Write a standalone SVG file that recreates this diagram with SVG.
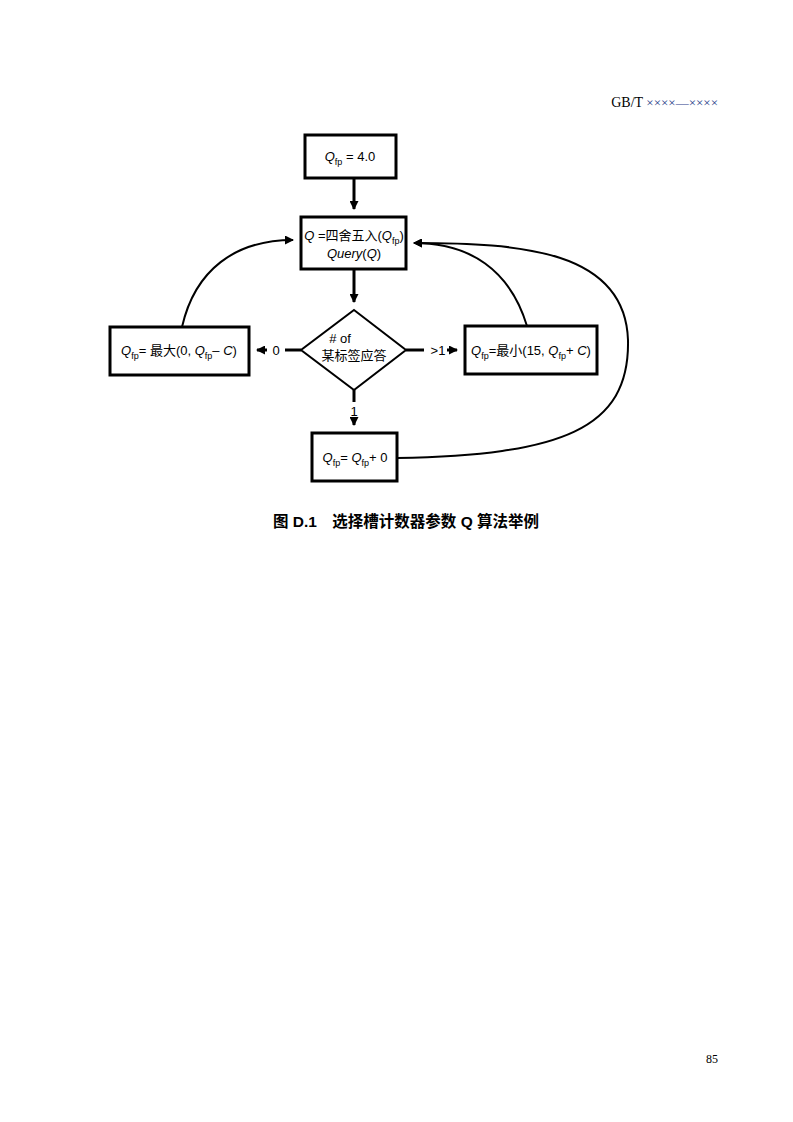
<svg xmlns="http://www.w3.org/2000/svg" width="793" height="1122" viewBox="0 0 793 1122">
<defs>
<marker id="ah" markerWidth="9" markerHeight="9" refX="8" refY="4.5" orient="auto" markerUnits="userSpaceOnUse" viewBox="0 0 9 9"><path d="M0,0 L9,4.5 L0,9 Z" fill="#000"/></marker>
<style>
.b{fill:#fff;stroke:#000;stroke-width:3}
.t{font-family:"Liberation Sans","Noto Sans CJK SC",sans-serif;font-size:13px;fill:#000}
.c{fill:none;stroke:#000;stroke-width:2}
.a{fill:none;stroke:#000;stroke-width:3}
</style>
</defs>
<rect width="793" height="1122" fill="#fff"/>
<text x="718" y="107" text-anchor="end" font-family="Liberation Serif,serif" font-size="14">GB/T <tspan fill="#1f3c88" font-size="13">××××—××××</tspan></text>
<g id="connectors">
<line class="a" x1="354" y1="178" x2="354" y2="209" marker-end="url(#ah)"/>
<line class="a" x1="354" y1="269" x2="354" y2="302" marker-end="url(#ah)"/>
<line class="a" x1="354" y1="390" x2="354" y2="402"/>
<line class="a" x1="354" y1="420" x2="354" y2="425" marker-end="url(#ah)"/>
<line class="a" x1="301" y1="350" x2="285" y2="350"/>
<line class="a" x1="267" y1="350" x2="257" y2="350" marker-end="url(#ah)"/>
<line class="a" x1="406" y1="350" x2="424" y2="350"/>
<line class="a" x1="447" y1="350" x2="457" y2="350" marker-end="url(#ah)"/>
<path class="c" d="M182,327 C195,270 235,240 293,240" marker-end="url(#ah)"/>
<path class="c" d="M527,326 C510,270 470,243 414,243" marker-end="url(#ah)"/>
<path class="c" d="M397,458 C560,455 630,430 628,340 C625,250 520,243 414,243" marker-end="url(#ah)"/>
<text class="t" x="276" y="355" text-anchor="middle">0</text>
<text class="t" x="438" y="355" text-anchor="middle">&gt;1</text>
<text class="t" x="354" y="416" text-anchor="middle">1</text>
</g>
<g id="init"><rect class="b" x="305" y="135" width="91" height="43"/>
<text class="t" x="350" y="161" text-anchor="middle"><tspan font-style="italic">Q</tspan><tspan font-size="9" dy="4">fp</tspan><tspan dy="-4"> = 4.0</tspan></text></g>
<g id="query"><rect class="b" x="301" y="217" width="105" height="52"/>
<text class="t" x="354" y="240" text-anchor="middle" font-size="12"><tspan font-style="italic">Q</tspan> =四舍五入(<tspan font-style="italic">Q</tspan><tspan font-size="9" dy="4">fp</tspan><tspan dy="-4">)</tspan></text>
<text class="t" x="354" y="258" text-anchor="middle"><tspan font-style="italic">Query</tspan>(<tspan font-style="italic">Q</tspan>)</text></g>
<g id="decision"><polygon points="354,310 406,350 354,390 301,350" fill="#fff" stroke="#000" stroke-width="2"/>
<text class="t" x="340" y="343" text-anchor="middle"># of</text>
<text class="t" x="354" y="360" text-anchor="middle" font-size="12">某标签应答</text></g>
<g id="dec"><rect class="b" x="110" y="327" width="139" height="48"/>
<text class="t" x="179" y="355" text-anchor="middle"><tspan font-style="italic">Q</tspan><tspan font-size="9" dy="4">fp</tspan><tspan dy="-4">= 最大(0, </tspan><tspan font-style="italic">Q</tspan><tspan font-size="9" dy="4">fp</tspan><tspan dy="-4">– </tspan><tspan font-style="italic">C</tspan>)</text></g>
<g id="inc"><rect class="b" x="465" y="326" width="132" height="48"/>
<text class="t" x="531" y="355" text-anchor="middle"><tspan font-style="italic">Q</tspan><tspan font-size="9" dy="4">fp</tspan><tspan dy="-4">=最小(15, </tspan><tspan font-style="italic">Q</tspan><tspan font-size="9" dy="4">fp</tspan><tspan dy="-4">+ </tspan><tspan font-style="italic">C</tspan>)</text></g>
<g id="same"><rect class="b" x="312" y="433" width="85" height="48"/>
<text class="t" x="355" y="462" text-anchor="middle"><tspan font-style="italic">Q</tspan><tspan font-size="9" dy="4">fp</tspan><tspan dy="-4">= </tspan><tspan font-style="italic">Q</tspan><tspan font-size="9" dy="4">fp</tspan><tspan dy="-4">+ 0</tspan></text></g>
<text x="406" y="527" text-anchor="middle" font-family="Liberation Sans,Noto Sans CJK SC,sans-serif" font-size="15.5" font-weight="bold">图 D.1　选择槽计数器参数 Q 算法举例</text>
<text x="718" y="1063" text-anchor="end" font-family="Liberation Serif,serif" font-size="12">85</text>
</svg>
